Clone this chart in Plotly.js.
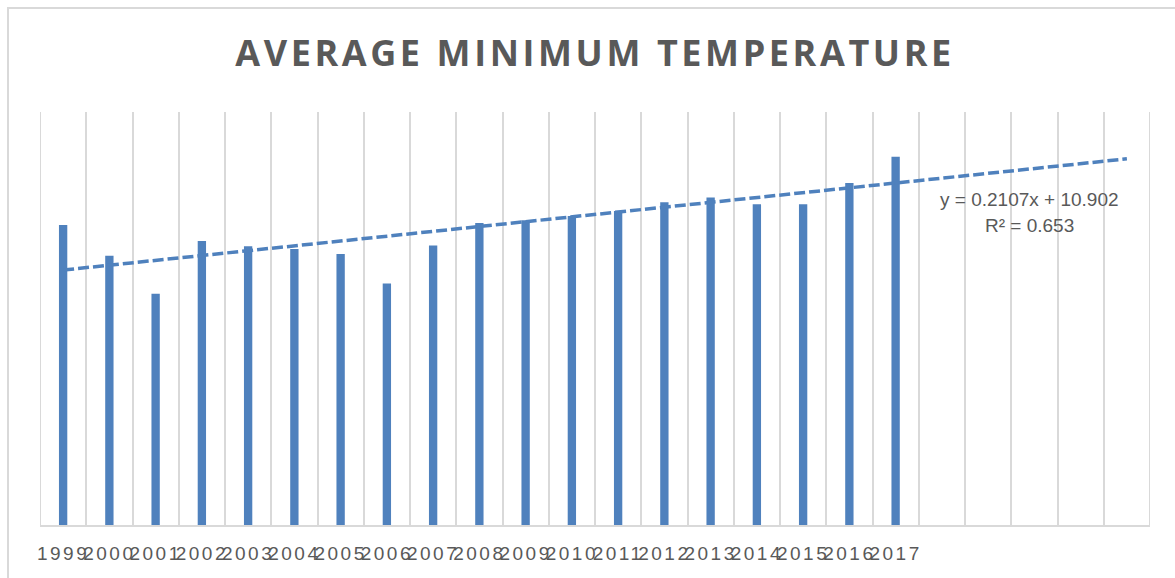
<!DOCTYPE html>
<html>
<head>
<meta charset="utf-8">
<script src="https://cdn.plot.ly/plotly-3.0.1.min.js"></script>
<style>
  html, body { margin: 0; padding: 0; background: #ffffff; }
  #wrap { position: relative; width: 1175px; height: 578px; overflow: hidden; }
  #chart { width: 1175px; height: 578px; }
  #frame { position: absolute; left: 7px; top: 7px; width: 1180px; height: 590px;
           border-left: 2px solid #d9d9d9; border-top: 2px solid #d9d9d9; pointer-events: none; }
  .gtitle { letter-spacing: 3.6px; }
  .xtick text { letter-spacing: 2.5px; }
</style>
</head>
<body>
<div id="wrap">
  <div id="chart"></div>
  <div id="frame"></div>
</div>
<script>
// ---- data ----
const years = [1999, 2000, 2001, 2002, 2003, 2004, 2005, 2006, 2007, 2008,
               2009, 2010, 2011, 2012, 2013, 2014, 2015, 2016, 2017];
const minTemp = [13.08, 11.74, 10.08, 12.38, 12.15, 12.03, 11.81, 10.52, 12.18, 13.16,
                 13.28, 13.47, 13.69, 14.07, 14.27, 13.98, 13.98, 14.91, 16.05];
const tickLabels = years.map(String);
const chartTitle = 'AVERAGE MINIMUM TEMPERATURE';
// linear trendline as printed on the chart (x = period index starting at 1)
const trendSlope = 0.2107;
const trendIntercept = 10.902;
const trendR2 = 0.653;
const forecastPeriods = 5;

// ---- trendline endpoints ----
const firstYear = years[0];
const lastYear = years[years.length - 1] + forecastPeriods;
const trendX = [firstYear, lastYear];
const trendY = trendX.map(yr => trendSlope * (yr - firstYear + 1) + trendIntercept);

const blue = '#4f81bd';
const grey = '#595959';
const gridGrey = '#d9d9d9';

const xMin = firstYear - 0.5;
const xMax = lastYear + 0.5;

const traces = [
  {
    type: 'bar',
    x: years,
    y: minTemp,
    width: 0.18,
    marker: { color: blue, line: { width: 0 } },
    hoverinfo: 'x+y',
    showlegend: false
  },
  {
    type: 'scatter',
    mode: 'lines',
    x: trendX,
    y: trendY,
    line: { color: blue, width: 3.5, dash: '11px,4px' },
    hoverinfo: 'skip',
    showlegend: false
  }
];

const layout = {
  width: 1175,
  height: 578,
  paper_bgcolor: '#ffffff',
  plot_bgcolor: '#ffffff',
  margin: { l: 40, r: 25, t: 112, b: 53 },
  title: {
    text: chartTitle,
    font: { family: 'Open Sans, sans-serif', size: 36, color: grey, weight: 'bold' },
    x: 0.5, xref: 'paper', xanchor: 'center',
    y: 1 - 53 / 578, yref: 'container', yanchor: 'middle'
  },
  xaxis: {
    type: 'linear',
    range: [xMin, xMax],
    tickmode: 'array',
    tickvals: years,
    ticktext: tickLabels,
    ticks: '',
    showgrid: false,
    zeroline: false,
    showline: true,
    linecolor: gridGrey,
    linewidth: 2,
    ticklabelstandoff: 10,
    tickfont: { family: 'Liberation Sans, Arial, sans-serif', size: 19, color: grey },
    minor: {
      tickmode: 'linear',
      tick0: xMin,
      dtick: 1,
      showgrid: true,
      gridcolor: gridGrey,
      gridwidth: 2,
      ticks: ''
    },
    fixedrange: true
  },
  yaxis: {
    range: [0, 18],
    showticklabels: false,
    showgrid: false,
    zeroline: false,
    showline: false,
    ticks: '',
    fixedrange: true
  },
  shapes: [xMin, xMax].map(xv => ({
    type: 'line', layer: 'below',
    xref: 'x', yref: 'paper',
    x0: xv, x1: xv, y0: 0, y1: 1,
    line: { color: gridGrey, width: 2 }
  })),
  annotations: [
    {
      text: 'y = ' + trendSlope + 'x + ' + trendIntercept,
      xref: 'paper', yref: 'paper',
      x: (1029 - 40) / 1110, y: (525 - 199) / 413,
      xanchor: 'center', yanchor: 'middle',
      showarrow: false,
      font: { family: 'Liberation Sans, Arial, sans-serif', size: 19, color: grey }
    },
    {
      text: 'R² = ' + trendR2,
      xref: 'paper', yref: 'paper',
      x: (1029 - 40) / 1110, y: (525 - 225) / 413,
      xanchor: 'center', yanchor: 'middle',
      showarrow: false,
      font: { family: 'Liberation Sans, Arial, sans-serif', size: 19, color: grey }
    }
  ],
  showlegend: false
};

Plotly.newPlot('chart', traces, layout, { displayModeBar: false, staticPlot: true });
</script>
</body>
</html>
